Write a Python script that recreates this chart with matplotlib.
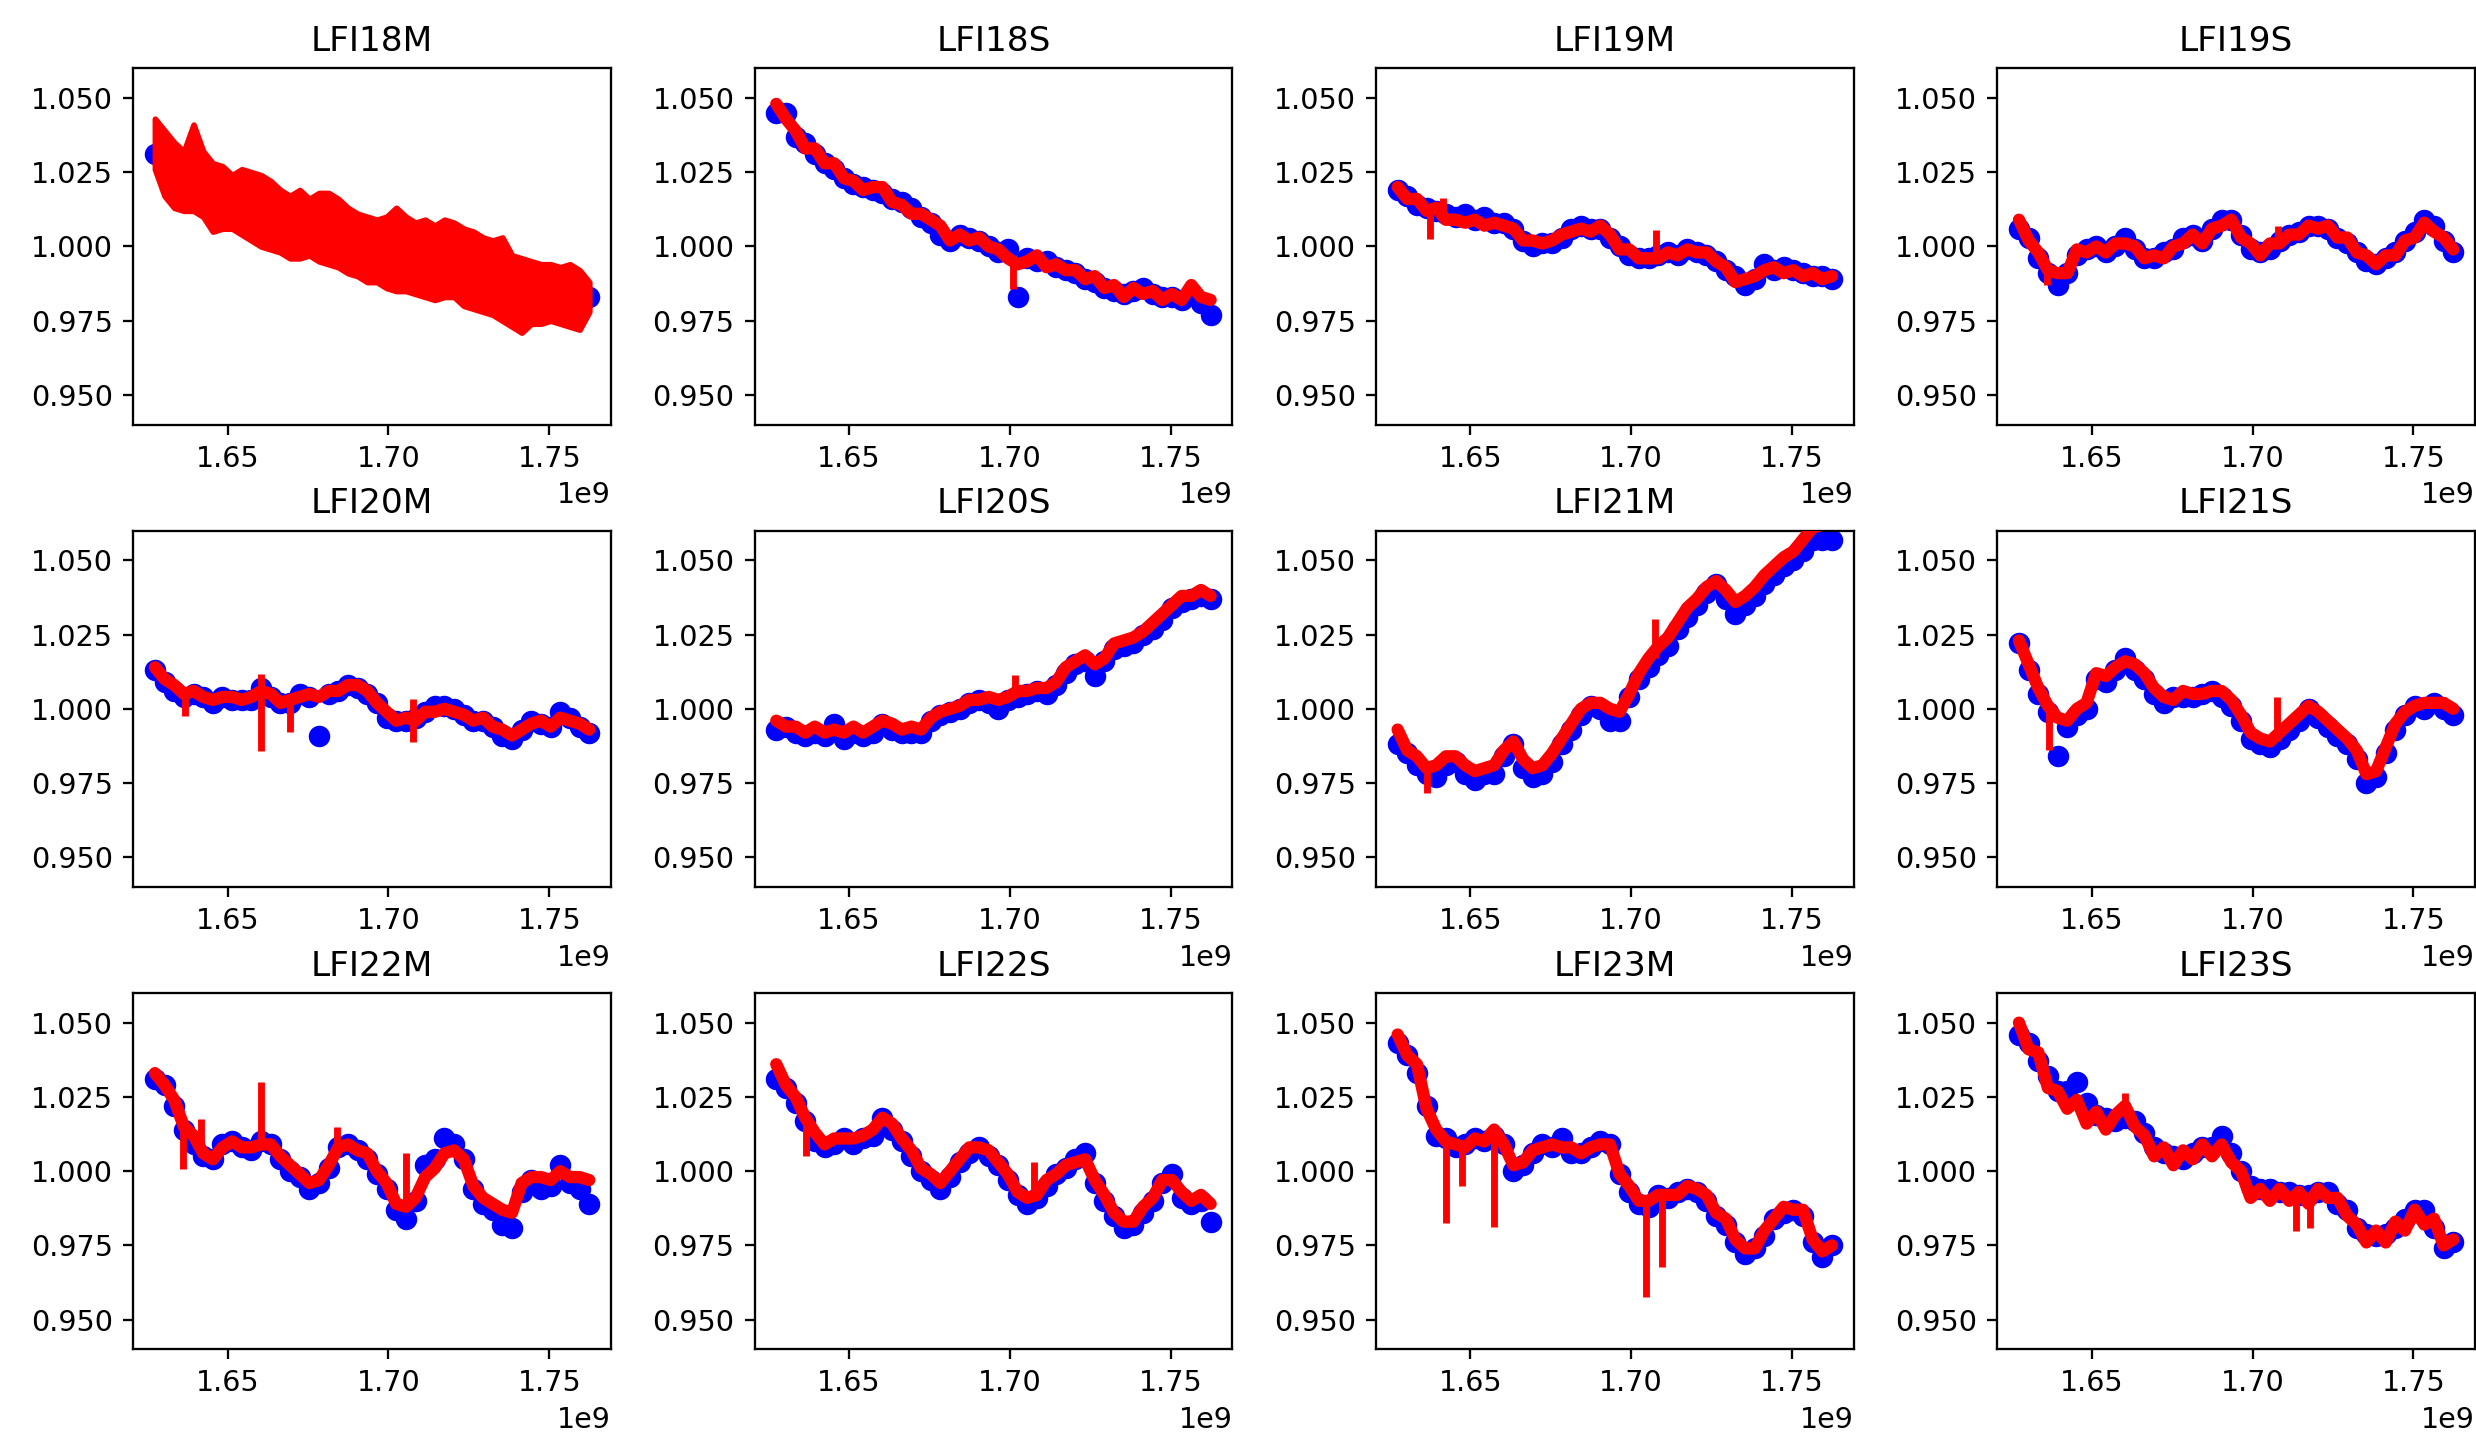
import matplotlib
matplotlib.use("Agg")
import matplotlib.pyplot as plt
import numpy as np

# ---------------- data (time in units of 1e9 s) ----------------
T = [1.6274, 1.6304, 1.6334, 1.6364, 1.6394, 1.6424, 1.6454, 1.6484, 1.6514, 1.6544,
     1.6574, 1.6604, 1.6634, 1.6664, 1.6694, 1.6724, 1.6754, 1.6784, 1.6814, 1.6844,
     1.6874, 1.6904, 1.6934, 1.6964, 1.6994, 1.7024, 1.7054, 1.7084, 1.7114, 1.7144,
     1.7174, 1.7204, 1.7234, 1.7264, 1.7294, 1.7324, 1.7354, 1.7384, 1.7414, 1.7444,
     1.7474, 1.7504, 1.7534, 1.7564, 1.7594, 1.7624]

names = ["LFI18M", "LFI18S", "LFI19M", "LFI19S",
         "LFI20M", "LFI20S", "LFI21M", "LFI21S",
         "LFI22M", "LFI22S", "LFI23M", "LFI23S"]

# LFI18M: red is a very noisy band -> upper / lower envelope
red_hi_LFI18M = [1.043, 1.039, 1.035, 1.032, 1.041, 1.032, 1.028, 1.027, 1.024, 1.026, 1.025, 1.024, 1.022, 1.019, 1.017, 1.019,
                 1.016, 1.018, 1.018, 1.016, 1.013, 1.011, 1.010, 1.009, 1.010, 1.013, 1.010, 1.008, 1.009, 1.007, 1.009, 1.008,
                 1.006, 1.005, 1.003, 1.002, 1.003, 0.997, 0.996, 0.995, 0.994, 0.994, 0.993, 0.994, 0.992, 0.988]
red_lo_LFI18M = [1.026, 1.017, 1.013, 1.012, 1.012, 1.010, 1.005, 1.006, 1.006, 1.004, 1.002, 1.000, 0.999, 0.998, 0.996, 0.996,
                 0.997, 0.995, 0.994, 0.993, 0.991, 0.990, 0.988, 0.988, 0.986, 0.985, 0.985, 0.984, 0.983, 0.982, 0.983, 0.983,
                 0.980, 0.979, 0.978, 0.977, 0.975, 0.973, 0.971, 0.974, 0.974, 0.975, 0.974, 0.973, 0.972, 0.978]
blue_LFI18M = [1.031, 1.028, 1.024, 1.022, 1.024, 1.021, 1.017, 1.016, 1.015, 1.015, 1.013, 1.012, 1.010, 1.009, 1.006, 1.007,
               1.006, 1.006, 1.006, 1.004, 1.002, 1.000, 0.999, 0.998, 0.998, 0.999, 0.997, 0.996, 0.996, 0.994, 0.996, 0.995,
               0.993, 0.992, 0.990, 0.989, 0.989, 0.985, 0.984, 0.985, 0.984, 0.984, 0.983, 0.983, 0.982, 0.983]

blue_LFI18S = [1.045, 1.045, 1.037, 1.035, 1.031, 1.028, 1.026, 1.023, 1.021, 1.020, 1.019, 1.018, 1.016, 1.015, 1.013, 1.010,
               1.008, 1.004, 1.002, 1.004, 1.003, 1.002, 1.000, 0.998, 0.999, 0.983, 0.996, 0.995, 0.995, 0.993, 0.992, 0.991,
               0.989, 0.988, 0.986, 0.985, 0.984, 0.985, 0.986, 0.984, 0.983, 0.983, 0.982, 0.984, 0.981, 0.977]
red_LFI18S = [1.048, 1.043, 1.039, 1.033, 1.033, 1.028, 1.028, 1.023, 1.022, 1.019, 1.020, 1.020, 1.015, 1.014, 1.011, 1.011,
              1.009, 1.007, 1.002, 1.004, 1.002, 1.003, 1.000, 0.999, 0.996, 0.994, 0.995, 0.997, 0.993, 0.994, 0.992, 0.992,
              0.989, 0.990, 0.986, 0.987, 0.983, 0.986, 0.984, 0.985, 0.982, 0.984, 0.982, 0.987, 0.983, 0.982]

blue_LFI19M = [1.019, 1.017, 1.014, 1.013, 1.012, 1.011, 1.010, 1.011, 1.009, 1.010, 1.008, 1.008, 1.006, 1.002, 1.000, 1.001,
               1.001, 1.003, 1.006, 1.007, 1.006, 1.006, 1.003, 1.000, 0.997, 0.996, 0.996, 0.997, 0.998, 0.997, 0.999, 0.998,
               0.997, 0.995, 0.992, 0.990, 0.987, 0.989, 0.994, 0.992, 0.993, 0.992, 0.991, 0.990, 0.990, 0.989]
red_LFI19M = [1.020, 1.016, 1.016, 1.012, 1.013, 1.009, 1.009, 1.008, 1.009, 1.007, 1.008, 1.007, 1.006, 1.002, 1.002, 1.001,
              1.002, 1.004, 1.005, 1.006, 1.005, 1.007, 1.004, 0.999, 0.999, 0.996, 0.996, 0.996, 0.998, 0.997, 0.999, 0.998,
              0.998, 0.995, 0.993, 0.988, 0.989, 0.990, 0.992, 0.993, 0.991, 0.992, 0.990, 0.991, 0.989, 0.990]

blue_LFI19S = [1.006, 1.003, 0.996, 0.991, 0.987, 0.991, 0.997, 0.999, 1.000, 0.998, 1.000, 1.003, 0.999, 0.996, 0.996, 0.998,
               0.999, 1.003, 1.004, 1.002, 1.006, 1.009, 1.009, 1.004, 0.999, 0.998, 0.999, 1.002, 1.004, 1.005, 1.007, 1.007,
               1.006, 1.003, 1.001, 0.998, 0.995, 0.994, 0.996, 0.998, 1.002, 1.005, 1.009, 1.007, 1.002, 0.998]
red_LFI19S = [1.009, 1.002, 0.998, 0.992, 0.991, 0.991, 0.999, 0.998, 1.000, 0.998, 1.001, 1.001, 1.000, 0.996, 0.997, 0.996,
              1.000, 1.001, 1.004, 1.001, 1.006, 1.007, 1.009, 1.003, 1.001, 0.997, 1.001, 1.001, 1.004, 1.004, 1.007, 1.006,
              1.007, 1.003, 1.003, 0.998, 0.997, 0.994, 0.997, 0.997, 1.002, 1.003, 1.008, 1.005, 1.003, 0.999]

blue_LFI20M = [1.013, 1.009, 1.006, 1.004, 1.005, 1.004, 1.002, 1.004, 1.003, 1.003, 1.003, 1.007, 1.004, 1.002, 1.002, 1.005,
               1.004, 0.991, 1.005, 1.006, 1.008, 1.007, 1.005, 1.002, 0.997, 0.996, 0.996, 0.997, 0.999, 1.001, 1.001, 1.000,
               0.998, 0.996, 0.996, 0.994, 0.991, 0.990, 0.993, 0.996, 0.995, 0.994, 0.999, 0.997, 0.994, 0.992]
red_LFI20M = [1.014, 1.010, 1.008, 1.005, 1.006, 1.004, 1.003, 1.004, 1.004, 1.003, 1.004, 1.006, 1.005, 1.002, 1.003, 1.004,
              1.005, 1.004, 1.006, 1.006, 1.008, 1.008, 1.006, 1.002, 0.999, 0.996, 0.997, 0.996, 0.999, 0.999, 1.000, 0.999,
              0.998, 0.996, 0.997, 0.994, 0.993, 0.991, 0.993, 0.995, 0.996, 0.994, 0.997, 0.996, 0.995, 0.993]

blue_LFI20S = [0.993, 0.994, 0.992, 0.991, 0.992, 0.991, 0.995, 0.990, 0.992, 0.991, 0.992, 0.995, 0.993, 0.992, 0.992, 0.992,
               0.996, 0.998, 0.999, 1.000, 1.002, 1.003, 1.002, 1.000, 1.003, 1.004, 1.005, 1.006, 1.005, 1.008, 1.012, 1.015,
               1.016, 1.011, 1.016, 1.020, 1.021, 1.022, 1.025, 1.027, 1.030, 1.034, 1.036, 1.037, 1.038, 1.037]
red_LFI20S = [0.996, 0.994, 0.994, 0.992, 0.994, 0.992, 0.993, 0.992, 0.994, 0.992, 0.994, 0.996, 0.995, 0.993, 0.994, 0.993,
              0.997, 0.999, 1.000, 1.001, 1.003, 1.003, 1.004, 1.003, 1.004, 1.006, 1.006, 1.007, 1.007, 1.009, 1.014, 1.016,
              1.018, 1.015, 1.017, 1.022, 1.023, 1.024, 1.026, 1.029, 1.032, 1.035, 1.038, 1.038, 1.040, 1.038]

blue_LFI21M = [0.988, 0.985, 0.981, 0.978, 0.977, 0.981, 0.982, 0.978, 0.976, 0.978, 0.978, 0.984, 0.988, 0.980, 0.977, 0.978,
               0.982, 0.988, 0.993, 0.998, 1.001, 1.000, 0.996, 0.996, 1.004, 1.010, 1.014, 1.018, 1.021, 1.027, 1.031, 1.035,
               1.039, 1.042, 1.037, 1.032, 1.035, 1.038, 1.042, 1.045, 1.048, 1.050, 1.053, 1.057, 1.057, 1.057]
red_LFI21M = [0.993, 0.986, 0.984, 0.980, 0.981, 0.984, 0.984, 0.981, 0.979, 0.980, 0.981, 0.986, 0.989, 0.983, 0.980, 0.981,
              0.985, 0.990, 0.995, 1.000, 1.002, 1.002, 1.000, 0.999, 1.005, 1.012, 1.017, 1.021, 1.024, 1.029, 1.034, 1.037,
              1.041, 1.043, 1.040, 1.036, 1.038, 1.041, 1.045, 1.048, 1.051, 1.053, 1.057, 1.061, 1.062, 1.062]

blue_LFI21S = [1.022, 1.013, 1.005, 0.999, 0.984, 0.994, 0.998, 1.000, 1.010, 1.009, 1.013, 1.017, 1.013, 1.010, 1.005, 1.002,
               1.004, 1.004, 1.004, 1.005, 1.006, 1.004, 1.001, 0.996, 0.990, 0.988, 0.987, 0.990, 0.993, 0.996, 1.000, 0.997,
               0.994, 0.991, 0.988, 0.983, 0.975, 0.977, 0.985, 0.993, 0.998, 1.001, 1.000, 1.002, 1.000, 0.998]
red_LFI21S = [1.023, 1.015, 1.007, 1.001, 0.997, 0.996, 1.000, 1.002, 1.012, 1.011, 1.014, 1.016, 1.015, 1.012, 1.007, 1.004,
              1.003, 1.006, 1.005, 1.005, 1.006, 1.006, 1.003, 0.998, 0.992, 0.990, 0.989, 0.992, 0.995, 0.998, 1.001, 0.999,
              0.996, 0.993, 0.990, 0.986, 0.978, 0.979, 0.987, 0.995, 0.999, 1.001, 1.002, 1.002, 1.002, 1.000]

blue_LFI22M = [1.031, 1.029, 1.022, 1.014, 1.009, 1.005, 1.004, 1.009, 1.010, 1.008, 1.007, 1.010, 1.009, 1.004, 1.000, 0.998,
               0.994, 0.996, 1.001, 1.008, 1.009, 1.007, 1.004, 0.999, 0.994, 0.987, 0.984, 0.990, 1.002, 1.004, 1.011, 1.009,
               1.004, 0.994, 0.989, 0.987, 0.982, 0.981, 0.993, 0.997, 0.994, 0.995, 1.002, 0.996, 0.994, 0.989]
red_LFI22M = [1.033, 1.029, 1.024, 1.015, 1.012, 1.006, 1.004, 1.008, 1.010, 1.008, 1.008, 1.009, 1.009, 1.005, 1.002, 0.999,
              0.996, 0.997, 1.002, 1.008, 1.009, 1.007, 1.006, 1.000, 0.996, 0.989, 0.988, 0.991, 0.998, 1.001, 1.006, 1.007,
              1.004, 0.995, 0.991, 0.989, 0.987, 0.986, 0.996, 0.998, 0.998, 0.997, 1.000, 0.998, 0.998, 0.997]

blue_LFI22S = [1.031, 1.028, 1.023, 1.017, 1.010, 1.008, 1.009, 1.011, 1.009, 1.011, 1.012, 1.018, 1.014, 1.010, 1.005, 1.000,
               0.997, 0.994, 0.998, 1.003, 1.006, 1.008, 1.005, 1.002, 0.997, 0.992, 0.989, 0.991, 0.995, 0.999, 1.001, 1.004,
               1.006, 0.996, 0.990, 0.985, 0.981, 0.982, 0.986, 0.990, 0.996, 0.999, 0.991, 0.989, 0.990, 0.983]
red_LFI22S = [1.036, 1.029, 1.025, 1.018, 1.013, 1.009, 1.011, 1.011, 1.011, 1.012, 1.014, 1.018, 1.016, 1.011, 1.007, 1.001,
              0.999, 0.996, 1.000, 1.004, 1.008, 1.008, 1.007, 1.003, 0.999, 0.993, 0.991, 0.992, 0.997, 0.999, 1.002, 1.003,
              1.004, 0.997, 0.992, 0.986, 0.983, 0.983, 0.988, 0.991, 0.997, 0.997, 0.993, 0.990, 0.992, 0.989]

blue_LFI23M = [1.043, 1.039, 1.033, 1.022, 1.012, 1.011, 1.008, 1.009, 1.011, 1.010, 1.012, 1.009, 1.000, 1.002, 1.006, 1.009,
               1.008, 1.011, 1.006, 1.006, 1.008, 1.010, 1.009, 0.999, 0.993, 0.989, 0.988, 0.992, 0.991, 0.993, 0.994, 0.993,
               0.990, 0.985, 0.982, 0.976, 0.972, 0.974, 0.978, 0.984, 0.986, 0.987, 0.985, 0.976, 0.971, 0.975]
red_LFI23M = [1.046, 1.039, 1.036, 1.021, 1.014, 1.010, 1.009, 1.008, 1.011, 1.010, 1.014, 1.009, 1.002, 1.003, 1.007, 1.008,
              1.009, 1.008, 1.008, 1.006, 1.008, 1.009, 1.009, 0.999, 0.995, 0.990, 0.990, 0.992, 0.992, 0.992, 0.995, 0.994,
              0.992, 0.986, 0.984, 0.977, 0.974, 0.974, 0.980, 0.984, 0.988, 0.987, 0.987, 0.977, 0.973, 0.975]

blue_LFI23S = [1.046, 1.043, 1.037, 1.032, 1.027, 1.027, 1.030, 1.023, 1.019, 1.018, 1.017, 1.018, 1.017, 1.013, 1.008, 1.006,
               1.005, 1.004, 1.006, 1.008, 1.008, 1.012, 1.006, 1.000, 0.995, 0.994, 0.994, 0.993, 0.993, 0.992, 0.992, 0.993,
               0.993, 0.989, 0.987, 0.981, 0.979, 0.978, 0.979, 0.981, 0.984, 0.987, 0.987, 0.981, 0.974, 0.976]
red_LFI23S = [1.050, 1.041, 1.040, 1.028, 1.027, 1.021, 1.024, 1.016, 1.020, 1.014, 1.019, 1.022, 1.015, 1.012, 1.005, 1.008,
              1.002, 1.007, 1.004, 1.009, 1.005, 1.009, 1.003, 1.000, 0.991, 0.994, 0.990, 0.994, 0.990, 0.993, 0.989, 0.994,
              0.991, 0.991, 0.985, 0.982, 0.976, 0.980, 0.976, 0.983, 0.980, 0.987, 0.982, 0.984, 0.975, 0.977]

# glitches in the red series: (time, from, to)
spikes_LFI18M = []
spikes_LFI18S = [(1.7009, 0.996, 0.9856)]
spikes_LFI19M = [(1.6375, 1.0125, 1.0024), (1.6415, 1.010, 1.0164), (1.7078, 0.996, 1.0057)]
spikes_LFI19S = [(1.6360, 0.993, 0.987), (1.7078, 1.001, 1.007)]
spikes_LFI20M = [(1.6367, 1.0055, 0.9977), (1.6603, 1.0118, 0.9859), (1.6694, 1.003, 0.9921), (1.7077, 1.0034, 0.9887)]
spikes_LFI20S = [(1.7015, 1.004, 1.0113)]
spikes_LFI21M = [(1.6365, 0.980, 0.9718), (1.7075, 1.017, 1.0304)]
spikes_LFI21S = [(1.6366, 1.000, 0.986), (1.7075, 0.989, 1.004)]
spikes_LFI22M = [(1.6360, 1.015, 1.0006), (1.6417, 1.008, 1.0175), (1.6605, 1.0095, 1.030),
                 (1.6840, 1.0085, 1.0147), (1.7054, 0.987, 1.0062)]
spikes_LFI22S = [(1.6367, 1.018, 1.005), (1.7075, 0.990, 1.003)]
spikes_LFI23M = [(1.6425, 1.0105, 0.9825), (1.6475, 1.0085, 0.995), (1.6575, 1.013, 0.9813),
                 (1.7045, 0.990, 0.9576), (1.7095, 0.9925, 0.9678)]
spikes_LFI23S = [(1.6605, 1.019, 1.0264), (1.7135, 0.991, 0.980), (1.7180, 0.991, 0.981)]

blue = {"LFI18M": blue_LFI18M, "LFI18S": blue_LFI18S, "LFI19M": blue_LFI19M, "LFI19S": blue_LFI19S,
        "LFI20M": blue_LFI20M, "LFI20S": blue_LFI20S, "LFI21M": blue_LFI21M, "LFI21S": blue_LFI21S,
        "LFI22M": blue_LFI22M, "LFI22S": blue_LFI22S, "LFI23M": blue_LFI23M, "LFI23S": blue_LFI23S}
red = {"LFI18S": red_LFI18S, "LFI19M": red_LFI19M, "LFI19S": red_LFI19S,
       "LFI20M": red_LFI20M, "LFI20S": red_LFI20S, "LFI21M": red_LFI21M, "LFI21S": red_LFI21S,
       "LFI22M": red_LFI22M, "LFI22S": red_LFI22S, "LFI23M": red_LFI23M, "LFI23S": red_LFI23S}
spikes = {"LFI18M": spikes_LFI18M, "LFI18S": spikes_LFI18S, "LFI19M": spikes_LFI19M, "LFI19S": spikes_LFI19S,
          "LFI20M": spikes_LFI20M, "LFI20S": spikes_LFI20S, "LFI21M": spikes_LFI21M, "LFI21S": spikes_LFI21S,
          "LFI22M": spikes_LFI22M, "LFI22S": spikes_LFI22S, "LFI23M": spikes_LFI23M, "LFI23S": spikes_LFI23S}

# ---------------- figure ----------------
DPI = 206.3
fig, axes = plt.subplots(3, 4, figsize=(2476 / DPI, 1443 / DPI), dpi=DPI)
fig.subplots_adjust(left=0.0538, right=0.9996, top=0.9527, bottom=0.0649,
                    wspace=0.3006, hspace=0.2973)

t = np.array(T) * 1e9
for ax, name in zip(axes.flat, names):
    ax.plot(t, blue[name], 'o', color='blue', ms=7.5, mew=0, zorder=2)
    if name == "LFI18M":
        ax.fill_between(t, red_lo_LFI18M, red_hi_LFI18M, color='red', lw=2.0,
                        edgecolor='red', zorder=3)
    else:
        ax.plot(t, red[name], '-', color='red', lw=4.3, zorder=3,
                solid_joinstyle='round', solid_capstyle='round')
    for (ts, y0, y1) in spikes[name]:
        ax.vlines(ts * 1e9, y0, y1, color='red', lw=2.4, zorder=3)
    ax.set_ylim(0.94, 1.06)
    ax.set_yticks([0.95, 0.975, 1.0, 1.025, 1.05])
    ax.set_title(name)

fig.savefig("out.png", dpi=DPI)
